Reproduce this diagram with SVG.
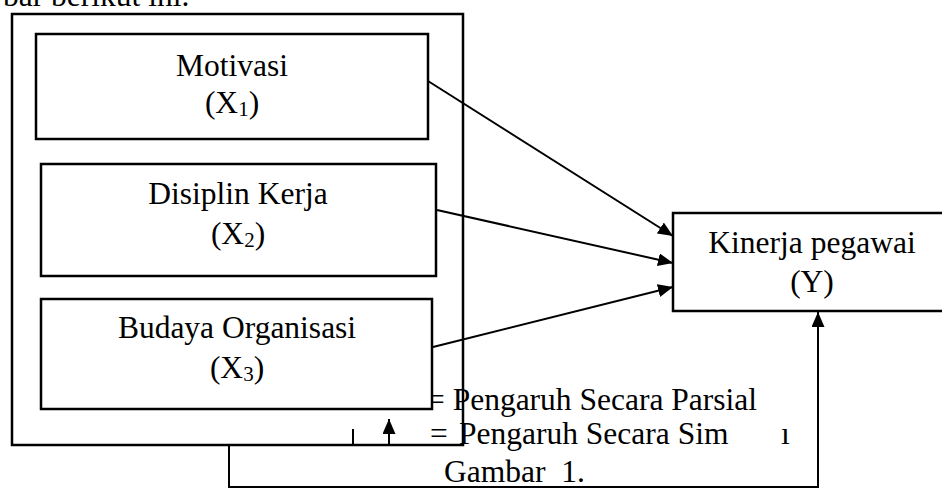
<svg xmlns="http://www.w3.org/2000/svg" width="942" height="488" viewBox="0 0 942 488">
<style>
text{font-family:"Liberation Serif","Times New Roman",serif;font-size:31.5px;fill:#000}
.c{text-anchor:middle}
.sub{font-size:21px}
.box{fill:#fff;stroke:#000;stroke-width:2.5}
.frame{fill:none;stroke:#000;stroke-width:2.5}
.ln{fill:none;stroke:#000;stroke-width:2}
</style>
<defs>
<marker id="ah" markerUnits="userSpaceOnUse" markerWidth="16" markerHeight="14" refX="15" refY="6.5" orient="auto">
<path d="M0,0 L15,6.5 L0,13 Z" fill="#000"/>
</marker>
</defs>
<rect width="942" height="488" fill="#fff"/>
<text x="3" y="6">bar berikut ini.</text>
<rect id="frame" class="frame" x="12" y="14" width="451" height="431"/>
<g id="legend">
<text x="427" y="410">= Pengaruh Secara Parsial</text>
<text y="444"><tspan x="430">=</tspan><tspan x="459">Pengaruh Secara Sim</tspan><tspan x="781">ı</tspan></text>
<text x="444" y="482" xml:space="preserve">Gambar  1.</text>
</g>
<g id="motivasi">
<rect class="box" x="36" y="34" width="392" height="105"/>
<text class="c" x="232" y="76">Motivasi</text>
<text class="c" x="232" y="113">(X<tspan class="sub" dy="3">1</tspan><tspan dy="-3">)</tspan></text>
</g>
<g id="disiplin">
<rect class="box" x="41" y="164" width="395" height="112"/>
<text class="c" x="238" y="204">Disiplin Kerja</text>
<text class="c" x="238" y="244">(X<tspan class="sub" dy="3">2</tspan><tspan dy="-3">)</tspan></text>
</g>
<g id="budaya">
<rect class="box" x="41" y="299" width="391" height="110"/>
<text class="c" x="237" y="338">Budaya Organisasi</text>
<text class="c" x="237" y="378">(X<tspan class="sub" dy="3">3</tspan><tspan dy="-3">)</tspan></text>
</g>
<g id="kinerja">
<rect class="box" x="673" y="213" width="280" height="98"/>
<text class="c" x="812" y="253">Kinerja pegawai</text>
<text class="c" x="812" y="292">(Y)</text>
</g>
<g id="connectors">
<line class="ln" x1="428" y1="81" x2="673" y2="236" marker-end="url(#ah)"/>
<line class="ln" x1="437" y1="210" x2="673" y2="263" marker-end="url(#ah)"/>
<line class="ln" x1="433" y1="347" x2="673" y2="287" marker-end="url(#ah)"/>
<polyline class="ln" points="229,445 229,487 818,487 818,312" marker-end="url(#ah)"/>
<line class="ln" x1="389" y1="445" x2="389" y2="419" marker-end="url(#ah)"/>
<line class="ln" x1="353" y1="429" x2="353" y2="445"/>
</g>
</svg>
